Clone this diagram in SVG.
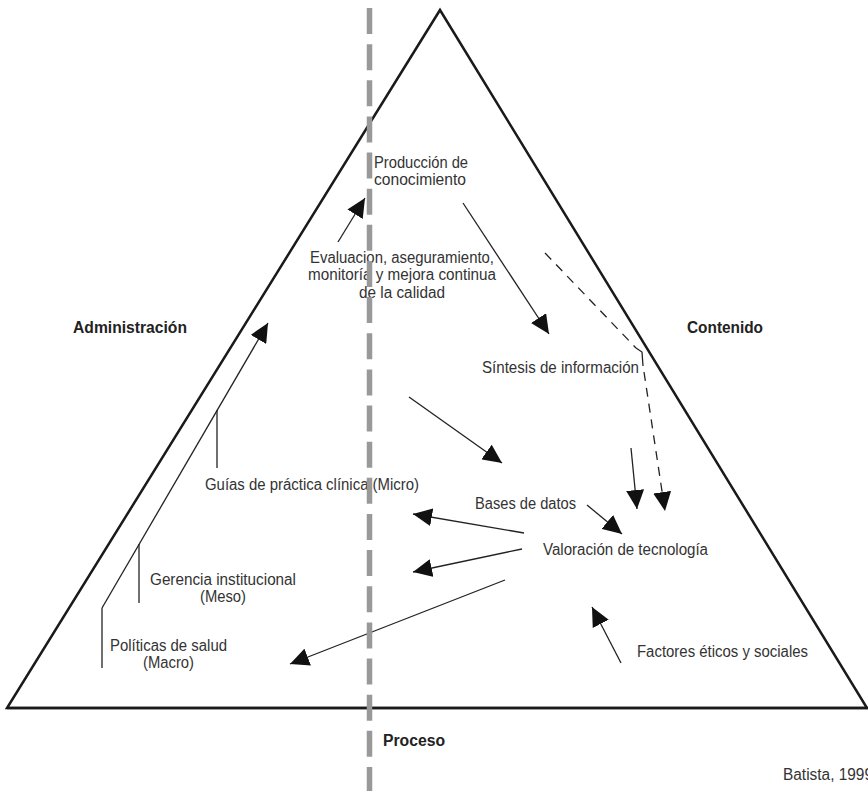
<svg xmlns="http://www.w3.org/2000/svg" width="868" height="791" viewBox="0 0 868 791">
<style>
.t{font-family:"Liberation Sans",Arial,sans-serif;font-size:16px;fill:#333;}
.b{font-family:"Liberation Sans",Arial,sans-serif;font-size:16px;font-weight:bold;fill:#222;}
.ln{stroke:#222;stroke-width:1.3;fill:none;}
.dl{stroke:#222;stroke-width:1.3;fill:none;stroke-dasharray:9 7;}
</style>
<defs>
<marker id="ah" markerUnits="userSpaceOnUse" markerWidth="20" markerHeight="18" refX="19" refY="9" orient="auto">
<path d="M0,0 L19,9 L0,18 z" fill="#111"/>
</marker>
</defs>
<rect width="868" height="791" fill="#fff"/>
<g id="triangle">
<path d="M440,10 L867,708 L7,708 z" fill="none" stroke="#1a1a1a" stroke-width="2.5" stroke-linejoin="miter"/>
<line x1="7" y1="708" x2="868" y2="708" stroke="#1a1a1a" stroke-width="2.5"/>
</g>
<g id="connectors">
<line class="ln" x1="338" y1="242" x2="365" y2="198" marker-end="url(#ah)"/>
<line class="ln" x1="463" y1="203" x2="549" y2="334" marker-end="url(#ah)"/>
<path class="dl" d="M545,253 L636,348"/>
<path class="ln" d="M636,348 L642,352 L643,366"/>
<path class="dl" d="M644,372 L665,511" marker-end="url(#ah)"/>
<line class="ln" x1="631" y1="448" x2="637" y2="509" marker-end="url(#ah)"/>
<line class="ln" x1="409" y1="397" x2="502" y2="463" marker-end="url(#ah)"/>
<line class="ln" x1="587" y1="505" x2="622" y2="534" marker-end="url(#ah)"/>
<line class="ln" x1="524" y1="533" x2="413" y2="514" marker-end="url(#ah)"/>
<line class="ln" x1="522" y1="549" x2="413" y2="572" marker-end="url(#ah)"/>
<line class="ln" x1="505" y1="580" x2="290" y2="664" marker-end="url(#ah)"/>
<line class="ln" x1="621" y1="663" x2="592" y2="607" marker-end="url(#ah)"/>
<line class="ln" x1="102" y1="608" x2="268" y2="323" marker-end="url(#ah)"/>
<line class="ln" x1="102" y1="608" x2="102" y2="668"/>
<line class="ln" x1="139" y1="544" x2="139" y2="603"/>
<line class="ln" x1="217" y1="410" x2="217" y2="468"/>
</g>
<g id="produccion"><text class="t" x="374" y="168" textLength="94" lengthAdjust="spacingAndGlyphs">Producción de</text><text class="t" x="374" y="185" textLength="92" lengthAdjust="spacingAndGlyphs">conocimiento</text></g>
<g id="evaluacion"><text class="t" x="310" y="263" textLength="184" lengthAdjust="spacingAndGlyphs">Evaluacion, aseguramiento,</text><text class="t" x="308" y="280" textLength="188" lengthAdjust="spacingAndGlyphs">monitoría y mejora continua</text><text class="t" x="359" y="298" textLength="86" lengthAdjust="spacingAndGlyphs">de la calidad</text></g>
<g id="sintesis"><text class="t" x="482" y="373" textLength="157" lengthAdjust="spacingAndGlyphs">Síntesis de información</text></g>
<g id="guias"><text class="t" x="205" y="490" textLength="214" lengthAdjust="spacingAndGlyphs">Guías de práctica clínica (Micro)</text></g>
<g id="bases"><text class="t" x="475" y="509" textLength="101" lengthAdjust="spacingAndGlyphs">Bases de datos</text></g>
<g id="valoracion"><text class="t" x="543" y="555" textLength="165" lengthAdjust="spacingAndGlyphs">Valoración de tecnología</text></g>
<g id="gerencia"><text class="t" x="150" y="585" textLength="146" lengthAdjust="spacingAndGlyphs">Gerencia institucional</text><text class="t" x="200" y="602" textLength="46" lengthAdjust="spacingAndGlyphs">(Meso)</text></g>
<g id="politicas"><text class="t" x="110" y="651" textLength="117" lengthAdjust="spacingAndGlyphs">Políticas de salud</text><text class="t" x="143" y="668" textLength="51" lengthAdjust="spacingAndGlyphs">(Macro)</text></g>
<g id="factores"><text class="t" x="637" y="657" textLength="171" lengthAdjust="spacingAndGlyphs">Factores éticos y sociales</text></g>
<g id="batista"><text class="t" x="783" y="780" textLength="90" lengthAdjust="spacingAndGlyphs">Batista, 1999</text></g>
<g id="administracion"><text class="b" x="73" y="333" textLength="114" lengthAdjust="spacingAndGlyphs">Administración</text></g>
<g id="contenido"><text class="b" x="687" y="333" textLength="76" lengthAdjust="spacingAndGlyphs">Contenido</text></g>
<g id="proceso"><text class="b" x="383" y="746" textLength="62" lengthAdjust="spacingAndGlyphs">Proceso</text></g>
<g id="divider">
<line x1="369.5" y1="8" x2="369.5" y2="791" stroke="#999" stroke-width="5.5" stroke-dasharray="26 10.14"/>
</g>
</svg>
